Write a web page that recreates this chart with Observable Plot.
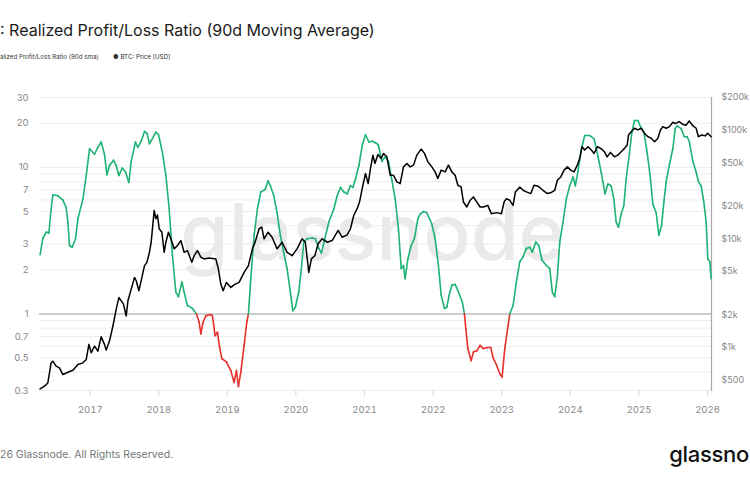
<!DOCTYPE html>
<html>
<head>
<meta charset="utf-8">
<script src="https://cdn.jsdelivr.net/npm/d3@7"></script>
<script src="https://cdn.jsdelivr.net/npm/@observablehq/plot@0.6"></script>
<style>
  html, body { margin: 0; padding: 0; background: #fff; }
  body { width: 750px; height: 480px; overflow: hidden; font-family: Inter, "Noto Sans", sans-serif; position: relative; }
  .blk { position: relative; width: 750px; overflow: hidden; }
  #title span { position: absolute; left: 0; top: 21px; font-size: 16px; color: #1a1a1a; white-space: nowrap; line-height: 1.2; }
  #legend span { position: absolute; top: 3.5px; font-size: 6.2px; color: #333; white-space: nowrap; line-height: 1; }
  #footer .copy { position: absolute; left: 0; top: 19px; font-size: 10.5px; color: #777; white-space: nowrap; line-height: 1.1; }
  #footer .logo { position: absolute; right: 1px; top: 12px; font-size: 22px; color: #111; font-weight: 500; letter-spacing: -0.3px; white-space: nowrap; line-height: 1.1; }
</style>
</head>
<body>
<div id="title" class="blk" style="height:50px"><span>: Realized Profit/Loss Ratio (90d Moving Average)</span></div>
<div id="legend" class="blk" style="height:20px">
  <span style="left:0">alized Profit/Loss Ratio (90d sma)</span>
  <span style="left:113px">● BTC: Price [USD]</span>
</div>
<div id="chart" class="blk"></div>
<div id="footer" class="blk" style="height:50px">
  <span class="copy">26 Glassnode. All Rights Reserved.</span>
  <span class="logo">glassno</span>
</div>
<script>
// ---- Data (decimal years) ----
const ratioT = [2016.271,2016.310,2016.359,2016.398,2016.431,2016.456,2016.529,2016.602,2016.650,2016.675,2016.698,2016.738,2016.786,2016.821,2016.894,2016.942,2016.990,2017.063,2017.112,2017.160,2017.208,2017.243,2017.281,2017.340,2017.379,2017.418,2017.466,2017.515,2017.564,2017.598,2017.660,2017.695,2017.743,2017.792,2017.831,2017.864,2017.907,2017.958,2017.996,2018.054,2018.104,2018.152,2018.200,2018.249,2018.287,2018.337,2018.370,2018.418,2018.491,2018.550,2018.589,2018.614,2018.647,2018.687,2018.760,2018.783,2018.822,2018.856,2018.891,2018.920,2018.987,2019.051,2019.099,2019.133,2019.162,2019.197,2019.245,2019.284,2019.308,2019.343,2019.391,2019.439,2019.488,2019.536,2019.555,2019.595,2019.628,2019.678,2019.726,2019.774,2019.824,2019.872,2019.920,2019.955,2019.993,2020.042,2020.080,2020.115,2020.163,2020.236,2020.284,2020.334,2020.372,2020.421,2020.480,2020.552,2020.601,2020.649,2020.698,2020.746,2020.794,2020.829,2020.867,2020.917,2020.965,2021.013,2021.063,2021.111,2021.184,2021.203,2021.252,2021.300,2021.348,2021.398,2021.446,2021.494,2021.534,2021.567,2021.592,2021.631,2021.679,2021.727,2021.777,2021.810,2021.859,2021.908,2021.981,2022.029,2022.077,2022.117,2022.165,2022.200,2022.233,2022.273,2022.321,2022.369,2022.427,2022.456,2022.477,2022.506,2022.554,2022.588,2022.637,2022.685,2022.733,2022.797,2022.841,2022.875,2022.923,2022.972,2023.006,2023.045,2023.093,2023.118,2023.166,2023.214,2023.264,2023.312,2023.360,2023.410,2023.447,2023.497,2023.541,2023.589,2023.652,2023.701,2023.739,2023.774,2023.812,2023.847,2023.895,2023.943,2023.993,2024.041,2024.074,2024.114,2024.162,2024.211,2024.284,2024.347,2024.405,2024.453,2024.474,2024.507,2024.547,2024.595,2024.634,2024.668,2024.701,2024.741,2024.780,2024.813,2024.862,2024.897,2024.935,2024.984,2025.022,2025.071,2025.120,2025.168,2025.203,2025.251,2025.290,2025.329,2025.363,2025.397,2025.445,2025.494,2025.528,2025.557,2025.615,2025.663,2025.703,2025.736,2025.786,2025.834,2025.867,2025.907,2025.946,2025.980,2026.004,2026.034,2026.052];
const ratioV = [2.54,3.26,3.62,3.56,5.2,6.5,6.4,5.98,5.3,4.24,2.93,2.85,3.26,4.46,6.1,8.8,13.4,12.3,13.7,14.9,12.3,8.9,10.3,11.2,10.3,8.8,9.9,9.3,7.9,11.0,14.9,13.7,15.1,17.6,17.0,14.5,15.7,17.4,16.7,12.6,8.8,5.2,2.5,1.41,1.31,1.65,1.41,1.14,1.09,1.0,0.88,0.73,0.88,0.97,0.99,0.97,0.71,0.75,0.58,0.495,0.47,0.41,0.34,0.41,0.32,0.40,0.61,0.88,1.0,1.74,3.44,5.2,6.8,7.0,7.1,8.1,7.5,6.4,4.9,3.44,2.6,2.04,1.41,1.05,1.11,1.41,2.04,3.09,3.26,3.3,3.26,2.8,2.6,3.26,4.24,5.2,6.4,7.3,6.8,6.6,7.5,7.3,8.3,10.3,14.1,16.7,14.9,15.1,14.5,14.1,11.0,11.8,11.0,8.2,6.1,3.8,2.04,2.14,1.74,2.37,2.93,3.26,4.46,4.8,5.0,4.9,4.1,3.26,2.14,1.34,1.09,1.11,1.34,1.57,1.59,1.41,1.20,1.0,0.79,0.58,0.48,0.55,0.56,0.61,0.58,0.59,0.59,0.50,0.45,0.39,0.37,0.58,0.83,1.0,1.14,1.65,2.27,2.45,2.8,2.85,2.64,3.09,2.93,2.32,2.14,2.04,1.41,1.31,1.8,3.09,4.24,6.1,7.5,8.6,7.5,9.5,13.4,16.5,16.5,15.7,11.8,9.1,8.0,6.6,7.7,7.5,6.1,4.24,3.9,4.8,5.5,8.3,12.6,17.4,20.9,20.9,19.0,17.4,12.6,8.3,5.6,4.9,3.44,4.0,5.8,8.0,10.5,13.4,18.4,19.2,18.4,16.2,16.2,14.9,11.0,9.3,8.0,7.5,5.8,4.24,2.37,2.27,1.74];

const priceT = [2016.271,2016.334,2016.383,2016.431,2016.456,2016.504,2016.552,2016.602,2016.675,2016.748,2016.821,2016.894,2016.942,2016.981,2017.015,2017.063,2017.112,2017.160,2017.208,2017.233,2017.281,2017.331,2017.379,2017.418,2017.452,2017.485,2017.525,2017.550,2017.598,2017.646,2017.671,2017.710,2017.758,2017.792,2017.827,2017.864,2017.889,2017.933,2017.958,2017.981,2018.006,2018.045,2018.079,2018.104,2018.141,2018.176,2018.224,2018.273,2018.322,2018.370,2018.418,2018.482,2018.516,2018.564,2018.614,2018.662,2018.735,2018.832,2018.870,2018.905,2018.939,2018.987,2019.051,2019.114,2019.172,2019.245,2019.308,2019.366,2019.405,2019.464,2019.503,2019.536,2019.595,2019.653,2019.726,2019.799,2019.872,2019.945,2020.017,2020.090,2020.138,2020.188,2020.226,2020.276,2020.324,2020.382,2020.455,2020.528,2020.615,2020.673,2020.746,2020.794,2020.844,2020.892,2020.926,2020.965,2021.013,2021.052,2021.086,2021.121,2021.150,2021.194,2021.242,2021.276,2021.325,2021.373,2021.421,2021.471,2021.519,2021.567,2021.617,2021.665,2021.713,2021.762,2021.825,2021.873,2021.923,2021.981,2022.029,2022.068,2022.117,2022.175,2022.223,2022.273,2022.321,2022.360,2022.408,2022.442,2022.491,2022.539,2022.588,2022.637,2022.685,2022.733,2022.797,2022.850,2022.923,2022.996,2023.035,2023.069,2023.118,2023.166,2023.200,2023.264,2023.312,2023.360,2023.424,2023.472,2023.531,2023.603,2023.666,2023.724,2023.774,2023.812,2023.862,2023.910,2023.958,2024.007,2024.055,2024.103,2024.138,2024.172,2024.211,2024.259,2024.307,2024.347,2024.395,2024.444,2024.497,2024.536,2024.585,2024.643,2024.692,2024.741,2024.789,2024.828,2024.848,2024.886,2024.935,2024.984,2025.032,2025.080,2025.130,2025.178,2025.227,2025.276,2025.313,2025.348,2025.397,2025.445,2025.494,2025.531,2025.586,2025.636,2025.685,2025.733,2025.786,2025.834,2025.867,2025.916,2025.965,2026.004,2026.052];
const priceV = [413,438,469,719,745,670,647,561,589,615,695,719,773,1064,890,1026,922,1251,1064,942,1141,1570,2244,2872,2680,2496,1944,2680,3436,4405,4102,3314,4530,5650,6060,7500,9290,18240,15280,16550,12360,11480,7500,9290,11480,9980,8070,8660,9620,7500,7780,6060,6980,7780,6780,6520,6650,6520,5260,3820,3314,3960,3560,3820,3960,4900,5650,8070,9290,12360,12790,9980,11480,10320,8070,9290,7500,6980,8070,9980,9290,4900,6520,6980,8980,9980,9290,9620,11920,10320,10860,12360,16550,18920,21780,28980,39900,32200,44400,58900,49400,59800,54960,61100,56800,38460,38460,33360,32200,45900,49400,45900,47600,58900,67000,61100,51100,45900,41300,35900,42850,41300,47600,41300,38460,31100,30000,21780,19600,22600,24250,21780,19600,19600,20300,17020,17400,17020,21780,23400,22600,20300,26980,30000,27940,27000,26060,31100,30500,27940,26060,26700,27940,34600,37100,42850,45900,42850,41300,47600,55000,70400,65600,70400,65600,61100,70400,68000,63200,56800,62400,56800,58900,63200,68000,73000,90300,96900,104200,100500,104200,93600,87100,84200,78300,84200,100500,107800,104200,107800,118300,115000,120000,113500,111200,121700,110000,104200,87100,90300,88600,93600,87100];

const leftTicks = [0.3, 0.5, 0.7, 1, 2, 3, 5, 7, 10, 20, 30];
const leftLabels = ["0.3", "0.5", "0.7", "1", "2", "3", "5", "7", "10", "20", "30"];
const gridValues = [0.3,0.4,0.5,0.6,0.7,0.8,0.9,2,3,4,5,6,7,8,9,10,20,30];
const priceTicks = [500, 1000, 2000, 5000, 10000, 20000, 50000, 100000, 200000];
const priceLabels = ["$500", "$1k", "$2k", "$5k", "$10k", "$20k", "$50k", "$100k", "$200k"];
const yearTicks = [2017, 2018, 2019, 2020, 2021, 2022, 2023, 2024, 2025, 2026];

// ---- helpers ----
function yd(t) {
  const y = Math.floor(t);
  const a = Date.UTC(y, 0, 1), b = Date.UTC(y + 1, 0, 1);
  return new Date(a + (t - y) * (b - a));
}
// price axis [400, 200000] shares the plot height with the ratio axis [0.3, 30]
const P0 = 400, P1 = 200000, R0 = 0.3, R1 = 30;
const K = Math.log(R1 / R0) / Math.log(P1 / P0);
const priceToY = p => R0 * Math.pow(p / P0, K);

const nR = Math.min(ratioT.length, ratioV.length);
const ratio = d3.range(nR).map(i => ({date: yd(ratioT[i]), v: ratioV[i]}));
const segRows = [];
for (let i = 0; i < nR - 1; i++) {
  const a = ratio[i], b = ratio[i + 1];
  const c = (a.v <= 1 && b.v <= 1) ? "loss" : "profit";
  segRows.push({seg: i, c, date: a.date, v: a.v});
  segRows.push({seg: i, c, date: b.date, v: b.v});
}
const nP = Math.min(priceT.length, priceV.length);
const price = d3.range(nP).map(i => ({date: yd(priceT[i]), p: priceV[i]}));
const priceAxis = priceTicks.map((p, i) => ({p, label: priceLabels[i]}));
const leftAxis = leftTicks.map((v, i) => ({v, label: leftLabels[i]}));

const chart = Plot.plot({
  width: 750,
  height: 360,
  marginTop: 27,
  marginBottom: 40,
  marginLeft: 39,
  marginRight: 39,
  style: {fontFamily: "Inter, 'Noto Sans', sans-serif", fontSize: "9.5px", color: "#888", background: "#fff"},
  x: {type: "utc", domain: [yd(2016.262), yd(2026.058)]},
  y: {type: "log", domain: [R0, R1], axis: null},
  color: {domain: ["profit", "loss"], range: ["#1db374", "#e8302a"]},
  marks: [
    Plot.ruleY(gridValues, {stroke: "#ededed", strokeWidth: 1}),
    Plot.ruleY([1], {stroke: "#bdbdbd", strokeWidth: 1.5}),
    Plot.text(["glassnode"], {frameAnchor: "middle", dy: -9, dx: -3, fontSize: 78, fill: "#e6e6e6", fontWeight: 500, fillOpacity: 0.85}),
    Plot.frame({anchor: "right", stroke: "#a9a9a9", strokeWidth: 1.2}),
    Plot.text(leftAxis, {y: "v", text: "label", frameAnchor: "left", textAnchor: "end", dx: -11, fill: "#888", fontSize: 9.5}),
    Plot.text(priceAxis, {y: d => priceToY(d.p), text: "label", frameAnchor: "right", textAnchor: "start", dx: 10, fill: "#888", fontSize: 9}),
    Plot.axisX({ticks: yearTicks.map(y => new Date(Date.UTC(y, 0, 1))), tickFormat: d3.utcFormat("%Y"), tickSize: 6, tickPadding: 10, stroke: "#d6d6d6", label: null}),
    Plot.line(segRows, {x: "date", y: "v", z: "seg", stroke: "c", strokeWidth: 1.6}),
    Plot.line(price, {x: "date", y: d => priceToY(d.p), stroke: "#000", strokeWidth: 1.5})
  ]
});
document.getElementById("chart").appendChild(chart);
</script>
</body>
</html>
